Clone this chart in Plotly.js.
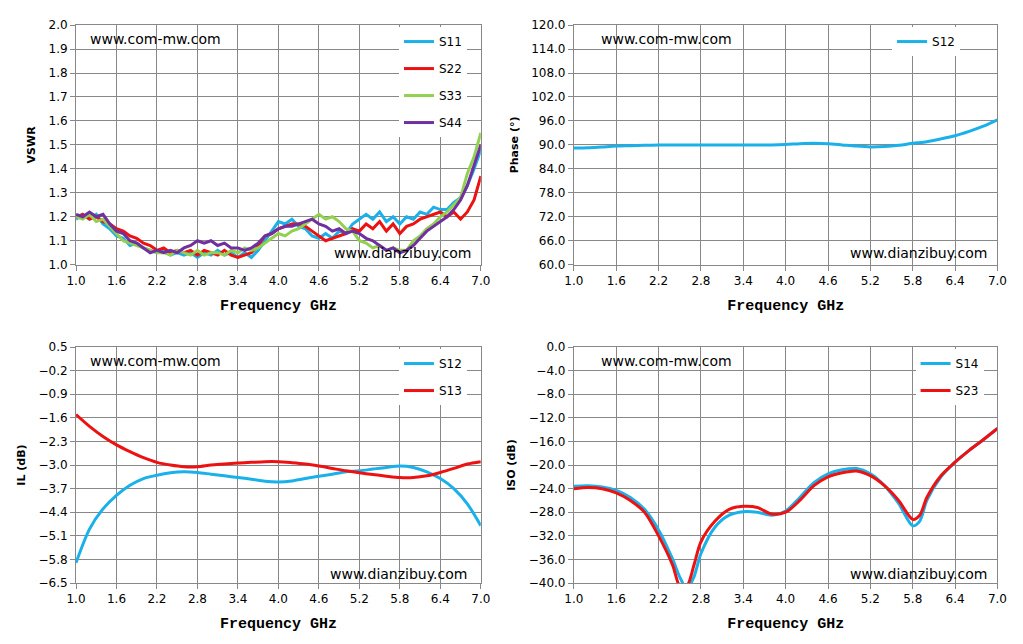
<!DOCTYPE html>
<html>
<head>
<meta charset="utf-8">
<script src="https://cdn.plot.ly/plotly-3.0.1.min.js"></script>
<style>body{margin:0;background:#fff}</style>
</head>
<body>
<div id="chart" style="width:1023px;height:644px"></div>
<script>
  // VSWR, 0.1 GHz step
  const fVswr = [1.0,1.1,1.2,1.3,1.4,1.5,1.6,1.7,1.8,1.9,
    2.0,2.1,2.2,2.3,2.4,2.5,2.6,2.7,2.8,2.9,
    3.0,3.1,3.2,3.3,3.4,3.5,3.6,3.7,3.8,3.9,
    4.0,4.1,4.2,4.3,4.4,4.5,4.6,4.7,4.8,4.9,
    5.0,5.1,5.2,5.3,5.4,5.5,5.6,5.7,5.8,5.9,
    6.0,6.1,6.2,6.3,6.4,6.5,6.6,6.7,6.8,6.9,7.0];
  const s11 = [1.19,1.21,1.19,1.21,1.17,1.15,1.12,1.11,1.08,1.09,
    1.07,1.06,1.05,1.06,1.04,1.05,1.04,1.05,1.03,1.05,
    1.04,1.06,1.04,1.05,1.03,1.05,1.03,1.06,1.10,1.14,
    1.18,1.17,1.19,1.16,1.15,1.12,1.11,1.13,1.11,1.14,
    1.13,1.17,1.19,1.21,1.19,1.22,1.18,1.20,1.17,1.20,
    1.19,1.22,1.21,1.24,1.23,1.23,1.26,1.28,1.33,1.40,1.48];
  const s22 = [1.20,1.21,1.19,1.20,1.18,1.17,1.15,1.14,1.12,1.11,
    1.09,1.08,1.06,1.07,1.05,1.06,1.05,1.06,1.04,1.06,
    1.05,1.04,1.06,1.04,1.03,1.04,1.05,1.08,1.12,1.13,
    1.15,1.16,1.17,1.17,1.16,1.14,1.12,1.10,1.11,1.12,
    1.13,1.15,1.14,1.17,1.15,1.18,1.14,1.17,1.13,1.16,
    1.17,1.19,1.20,1.21,1.22,1.20,1.22,1.19,1.22,1.27,1.37];
  const s33 = [1.20,1.19,1.21,1.18,1.19,1.16,1.13,1.10,1.09,1.08,
    1.07,1.06,1.05,1.05,1.04,1.06,1.05,1.04,1.06,1.04,
    1.05,1.05,1.04,1.06,1.05,1.07,1.06,1.07,1.09,1.11,
    1.13,1.12,1.14,1.15,1.17,1.19,1.21,1.19,1.20,1.18,
    1.15,1.14,1.10,1.09,1.07,1.08,1.06,1.07,1.06,1.06,
    1.10,1.12,1.15,1.17,1.20,1.22,1.25,1.28,1.38,1.45,1.55];
  const s44 = [1.21,1.20,1.22,1.20,1.21,1.17,1.14,1.13,1.10,1.09,
    1.07,1.05,1.06,1.05,1.06,1.05,1.07,1.08,1.10,1.09,
    1.10,1.08,1.09,1.07,1.07,1.06,1.07,1.09,1.12,1.13,
    1.15,1.16,1.16,1.17,1.18,1.19,1.17,1.16,1.14,1.15,
    1.13,1.14,1.13,1.11,1.10,1.08,1.06,1.07,1.05,1.06,
    1.08,1.11,1.14,1.16,1.18,1.20,1.23,1.27,1.33,1.42,1.50];

  // Phase / IL, 0.2 GHz step
  const f2 = [1.0,1.2,1.4,1.6,1.8,2.0,2.2,2.4,2.6,2.8,3.0,3.2,3.4,3.6,3.8,4.0,
    4.2,4.4,4.6,4.8,5.0,5.2,5.4,5.6,5.8,6.0,6.2,6.4,6.6,6.8,7.0];
  const phase12 = [89.2,89.3,89.5,89.7,89.8,89.9,90.0,90.0,90.0,90.0,90.0,90.0,90.0,90.0,90.0,90.1,
    90.3,90.4,90.3,90.0,89.7,89.5,89.6,89.9,90.4,90.8,91.5,92.3,93.4,94.7,96.3];
  const il12 = [-5.9,-4.9,-4.3,-3.9,-3.6,-3.4,-3.3,-3.23,-3.2,-3.22,-3.27,-3.32,-3.37,-3.42,-3.48,-3.5,
    -3.47,-3.4,-3.33,-3.27,-3.2,-3.17,-3.12,-3.07,-3.03,-3.07,-3.2,-3.4,-3.7,-4.15,-4.8];
  const il13 = [-1.5,-1.85,-2.15,-2.4,-2.6,-2.78,-2.92,-3.0,-3.05,-3.05,-3.0,-2.97,-2.94,-2.92,-2.9,-2.9,
    -2.93,-2.97,-3.03,-3.1,-3.17,-3.23,-3.28,-3.33,-3.37,-3.37,-3.32,-3.22,-3.1,-2.97,-2.9];

  // Isolation
  const fIso = [1.0,1.2,1.4,1.6,1.8,2.0,2.2,2.4,2.5,2.6,2.7,2.8,3.0,3.2,3.4,3.6,3.8,4.0,
    4.2,4.4,4.6,4.8,5.0,5.2,5.4,5.6,5.8,5.9,6.0,6.2,6.4,6.6,6.8,7.0];
  const iso14 = [-23.6,-23.5,-23.7,-24.3,-25.5,-27.5,-31,-36,-39,-41,-39,-35,-30.5,-28.5,-27.9,-28,-28.5,-27.8,
    -25.5,-23,-21.5,-20.8,-20.6,-21.5,-23.5,-26.5,-30.3,-29.5,-26,-22,-19.5,-17.5,-15.7,-13.8];
  const iso23 = [-24,-23.8,-24,-24.7,-26,-28,-32,-37,-40.5,-40.5,-37,-33,-29.5,-27.5,-27,-27.2,-28.3,-28,
    -26,-23.5,-22,-21.3,-21,-21.8,-23.5,-26,-29.2,-28.5,-25.5,-21.8,-19.5,-17.5,-15.7,-13.8];

  const CYAN = '#1ab0ea', RED = '#ee1111', GREEN = '#92d050', PURPLE = '#7030a0';

  function tr(x, y, name, color, ax, leg, shape) {
    return {x: x, y: y, name: name, type: 'scatter', mode: 'lines', legendgroup: leg + name,
      line: {color: color, width: 3, shape: shape || 'linear', smoothing: 0.8},
      xaxis: 'x' + ax, yaxis: 'y' + ax, legend: leg};
  }

  const data = [
    tr(fVswr, s11, 'S11', CYAN, '', 'legend'),
    tr(fVswr, s22, 'S22', RED, '', 'legend'),
    tr(fVswr, s33, 'S33', GREEN, '', 'legend'),
    tr(fVswr, s44, 'S44', PURPLE, '', 'legend'),
    tr(f2, phase12, 'S12', CYAN, '2', 'legend2', 'spline'),
    tr(f2, il12, 'S12', CYAN, '3', 'legend3', 'spline'),
    tr(f2, il13, 'S13', RED, '3', 'legend3', 'spline'),
    tr(fIso, iso14, 'S14', CYAN, '4', 'legend4', 'spline'),
    tr(fIso, iso23, 'S23', RED, '4', 'legend4', 'spline')
  ];

  const tickFont = {family: 'Verdana, DejaVu Sans', size: 12, color: '#000'};
  const xTitle = {text: 'Frequency GHz', font: {family: 'Liberation Mono', size: 15, color: '#000', weight: 'bold'}, standoff: 12};

  function xa(dom, anchor) {
    return {domain: dom, anchor: anchor, range: [1, 7], dtick: 0.6, tick0: 1, tickformat: '.1f',
      showgrid: true, gridcolor: '#888', gridwidth: 1, showline: true, linecolor: '#888', mirror: true,
      ticks: 'outside', ticklen: 5, tickcolor: '#888', tickfont: tickFont, zeroline: false, title: xTitle};
  }
  function ya(dom, anchor, range, dtick, title) {
    return {domain: dom, anchor: anchor, range: range, dtick: dtick, tick0: range[0], tickformat: '.1f',
      showgrid: true, gridcolor: '#888', gridwidth: 1, showline: true, linecolor: '#888', mirror: true,
      ticks: 'outside', ticklen: 5, tickcolor: '#888', tickfont: tickFont, zeroline: false,
      title: {text: title, font: {family: 'Verdana, DejaVu Sans', size: 11, color: '#000', weight: 'bold'}, standoff: 10}};
  }

  const L = [0.0743, 0.470], R = [0.561, 0.975];
  const T = [0.589, 0.961], B = [0.0947, 0.461];

  function leg(x, y) {
    return {x: x, y: y, xanchor: 'left', yanchor: 'top', bgcolor: '#fff',
      font: {family: 'Verdana, DejaVu Sans', size: 12, color: '#000'}, tracegroupgap: 8};
  }

  function note(text, x, y, xref, yref, xanchor) {
    return {text: text, x: x, y: y, xref: xref + ' domain', yref: yref + ' domain', xanchor: xanchor,
      yanchor: 'middle', showarrow: false, font: {family: 'Verdana, DejaVu Sans', size: 14, color: '#000'}};
  }

  const layout = {
    width: 1023, height: 644, margin: {l: 0, r: 0, t: 0, b: 0},
    paper_bgcolor: '#fff', plot_bgcolor: '#fff', showlegend: true,
    xaxis: xa(L, 'y'), yaxis: ya(T, 'x', [1, 2], 0.1, 'VSWR'),
    xaxis2: xa(R, 'y2'), yaxis2: ya(T, 'x2', [60, 120], 6, 'Phase (°)'),
    xaxis3: xa(L, 'y3'), yaxis3: ya(B, 'x3', [-6.5, 0.5], 0.7, 'IL (dB)'),
    xaxis4: xa(R, 'y4'), yaxis4: ya(B, 'x4', [-40, 0], 4, 'ISO (dB)'),
    legend: leg(0.39, 0.958),
    legend2: leg(0.872, 0.958),
    legend3: leg(0.39, 0.458),
    legend4: leg(0.895, 0.458),
    annotations: [
      note('www.com-mw.com', 0.03, 0.94, 'x', 'y', 'left'),
      note('www.dianzibuy.com', 0.98, 0.05, 'x', 'y', 'right'),
      note('www.com-mw.com', 0.06, 0.94, 'x2', 'y2', 'left'),
      note('www.dianzibuy.com', 0.98, 0.05, 'x2', 'y2', 'right'),
      note('www.com-mw.com', 0.03, 0.94, 'x3', 'y3', 'left'),
      note('www.dianzibuy.com', 0.97, 0.04, 'x3', 'y3', 'right'),
      note('www.com-mw.com', 0.06, 0.94, 'x4', 'y4', 'left'),
      note('www.dianzibuy.com', 0.98, 0.04, 'x4', 'y4', 'right')
    ]
  };

  Plotly.newPlot('chart', data, layout, {displayModeBar: false, staticPlot: true});
</script>
</body>
</html>
